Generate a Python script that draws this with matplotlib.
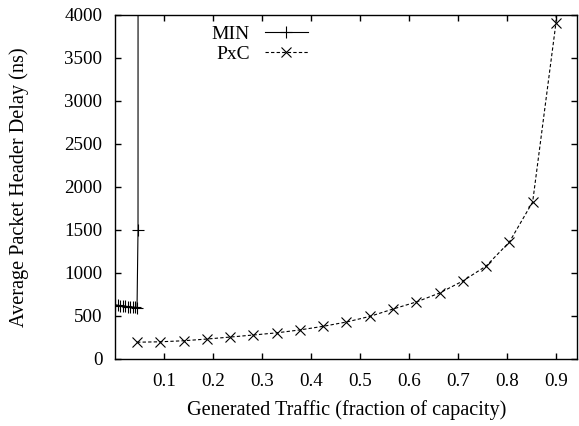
import matplotlib
matplotlib.use('Agg')
import matplotlib.pyplot as plt

# MIN routing: saturates almost immediately
min_load = [0.001, 0.006, 0.011, 0.016, 0.021, 0.026, 0.031, 0.036, 0.041, 0.045, 0.047, 0.0475]
min_delay = [630, 625, 620, 617, 613, 610, 607, 604, 601, 598, 1500, 20000]

# PxC routing
pxc_load = [0.045, 0.0925, 0.14, 0.1875, 0.235, 0.2825, 0.33, 0.3775, 0.425, 0.4725,
            0.52, 0.5675, 0.615, 0.6625, 0.71, 0.7575, 0.805, 0.8525, 0.9, 0.9475]
pxc_delay = [195, 200, 212, 232, 255, 279, 304, 338, 380, 430,
             495, 581, 663, 767, 907, 1081, 1360, 1826, 3907, 12000]

xticks = [0.1, 0.2, 0.3, 0.4, 0.5, 0.6, 0.7, 0.8, 0.9]
yticks = [0, 500, 1000, 1500, 2000, 2500, 3000, 3500, 4000]

plt.rcParams['font.family'] = ['Liberation Serif', 'DejaVu Serif']
plt.rcParams['font.size'] = 13.7

fig = plt.figure(figsize=(5.79, 4.26), dpi=100)
ax = fig.add_axes([0.1986, 0.1573, 0.7988, 0.8075])

ax.plot(min_load, min_delay, color='black', lw=0.8, marker='+', ms=9,
        mew=0.8, label='MIN')
ax.plot(pxc_load, pxc_delay, color='black', lw=0.8, linestyle=(0, (3, 2)),
        marker='x', ms=7.5, mew=0.8, label='PxC')

ax.set_xlim(0, 0.944)
ax.set_ylim(0, 4000)
ax.set_xticks(xticks)
ax.set_xticklabels(['%.1f' % t for t in xticks])
ax.set_yticks(yticks)
ax.tick_params(direction='in', length=4, width=1, top=True, right=True,
               labelsize=13.7)
ax.tick_params(axis='x', pad=10)
ax.tick_params(axis='y', pad=9)
for s in ax.spines.values():
    s.set_linewidth(1.0)

ax.set_xlabel('Generated Traffic (fraction of capacity)', va='center', fontsize=14.6)
ax.xaxis.set_label_coords(0.5, -0.148)
ax.set_ylabel('Average Packet Header Delay (ns)', va='center', fontsize=14.6)
ax.yaxis.set_label_coords(-0.2076, 0.5)

ax.legend(loc='upper right', bbox_to_anchor=(0.417, 0.97), frameon=False,
          markerfirst=False, borderaxespad=0, borderpad=0, handlelength=2.2,
          handletextpad=0.8, labelspacing=0.12, fontsize=14)

fig.savefig('out.png', dpi=100)
